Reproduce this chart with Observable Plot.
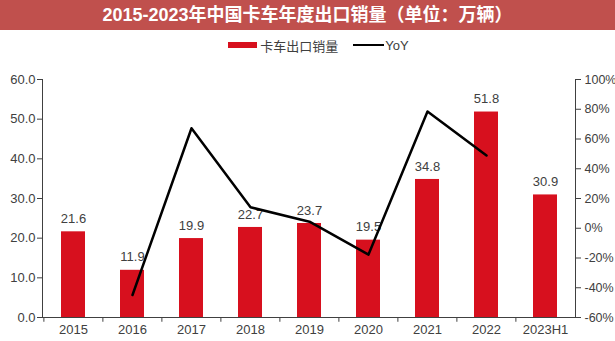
<!DOCTYPE html>
<html><head><meta charset="utf-8">
<script src="https://cdn.jsdelivr.net/npm/d3@7"></script>
<script src="https://cdn.jsdelivr.net/npm/@observablehq/plot@0.6"></script>
<style>
body{margin:0;background:#fff;font-family:"Liberation Sans",Arial,"Noto Sans CJK SC",sans-serif;}
#wrap{width:615px;height:341px;position:relative;overflow:hidden;}
#title{height:30px;line-height:30px;background:#c0504d;color:#fff;font-weight:bold;font-size:18px;text-align:center;}
#legend{height:30px;display:flex;align-items:center;justify-content:center;font-size:13px;color:#404040;padding-left:22px;box-sizing:border-box;}
.sw{display:inline-block;width:29px;height:6px;background:#d7101e;margin-right:3px;}
.ln{display:inline-block;width:31px;height:2.5px;background:#000;margin-left:15px;margin-right:1px;}
</style></head>
<body><div id="wrap">
<div id="title">2015-2023年中国卡车年度出口销量（单位：万辆）</div>
<div id="legend"><span class="sw"></span><span>卡车出口销量</span><span class="ln"></span><span>YoY</span></div>
<div id="chart"></div>
</div>
<script>
const categories = ["2015","2016","2017","2018","2019","2020","2021","2022","2023H1"];
const sales = [21.6, 11.9, 19.9, 22.7, 23.7, 19.5, 34.8, 51.8, 30.9];
const yoyYears = ["2016","2017","2018","2019","2020","2021","2022"];
const yoy = [-44.9, 67.2, 14.1, 4.4, -17.7, 78.5, 48.9];
const leftTicks = [0, 10, 20, 30, 40, 50, 60];
const rightTicks = [-60, -40, -20, 0, 20, 40, 60, 80, 100];

const toLeft = p => (p + 60) * 60 / 160;
const fromLeft = v => Math.round(v * 160 / 60 - 60);

const bars = categories.map((c, i) => ({cat: c, v: sales[i]}));
const line = yoyYears.map((c, i) => ({cat: c, v: toLeft(yoy[i])}));

const W = 615, mL = 42, mR = 40;
const step = (W - mL - mR) / categories.length;

const chart = Plot.plot({
  width: W, height: 281,
  marginTop: 19, marginBottom: 24, marginLeft: mL, marginRight: mR,
  style: {fontFamily: '"Liberation Sans", Arial, sans-serif', fontSize: "13px", color: "#404040", overflow: "visible"},
  x: {domain: categories, paddingInner: 0.6, paddingOuter: 0.3, axis: null},
  y: {domain: [0, 60], axis: null},
  marks: [
    Plot.axisX({tickSize: 0, tickPadding: 7, fontSize: 13, fill: "#404040", label: null}),
    Plot.axisY({ticks: leftTicks, tickFormat: d => d.toFixed(1), tickSize: 5, tickPadding: 2, fontSize: 13, stroke: "#404040", fill: "#404040", label: null}),
    Plot.axisY({anchor: "right", ticks: rightTicks.map(toLeft), tickFormat: d => fromLeft(d) + "%", tickSize: 5, tickPadding: 4, fontSize: 12.5, stroke: "#404040", fill: "#404040", label: null}),
    Plot.barY(bars, {x: "cat", y: "v", fill: "#d7101e"}),
    Plot.text(bars, {x: "cat", y: "v", text: d => d.v.toFixed(1), dy: -13, fontSize: 13, fill: "#404040"}),
    Plot.line(line, {x: "cat", y: "v", stroke: "#000", strokeWidth: 2.5}),
    Plot.ruleX(categories, {x: d => d, y1: 0, y2: -1.2, dx: -step / 2, stroke: "#404040"}),
    Plot.frame({anchor: "left", stroke: "#404040"}),
    Plot.frame({anchor: "right", stroke: "#404040"}),
    Plot.frame({anchor: "bottom", stroke: "#404040"})
  ]
});
document.getElementById("chart").appendChild(chart);
</script>
</body></html>
